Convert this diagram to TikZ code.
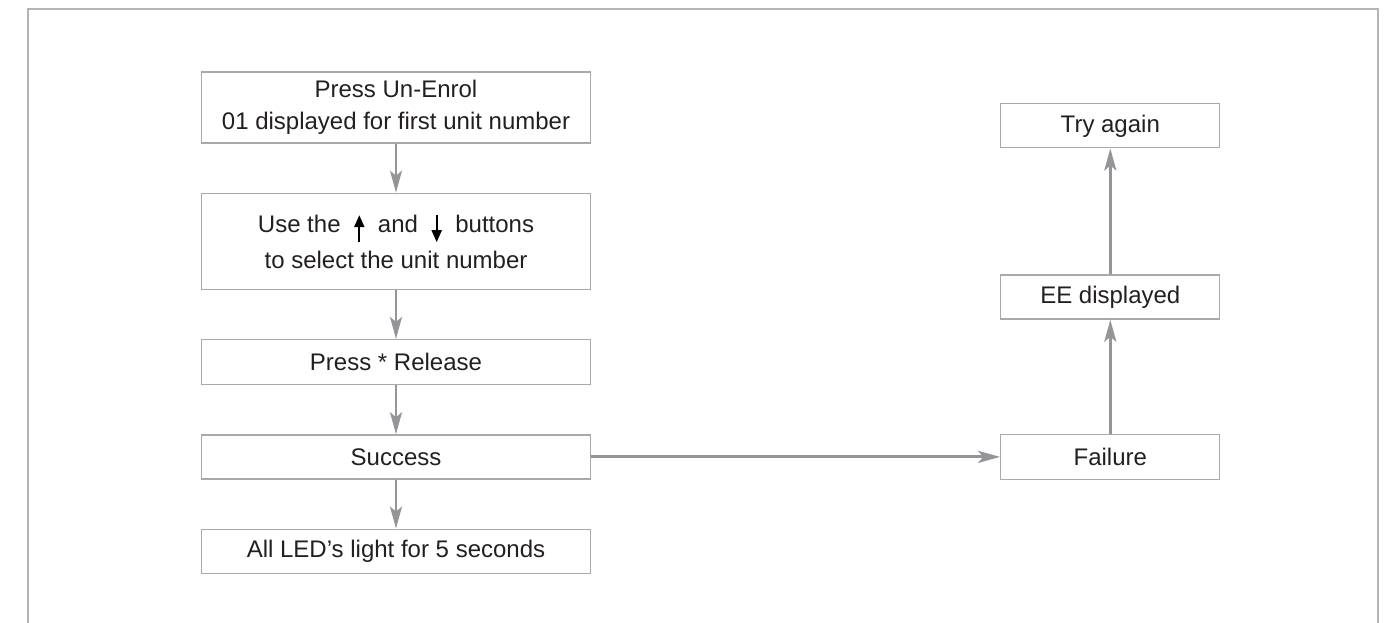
\documentclass[tikz,border=0pt]{standalone}
\usepackage{fontspec}
\setmainfont{Liberation Sans}
\usetikzlibrary{positioning,arrows.meta}

\definecolor{framegray}{HTML}{B4B4B4}
\definecolor{boxgray}{HTML}{A9A9A9}
\definecolor{arrowgray}{HTML}{939598}
\definecolor{textdark}{HTML}{231F20}

% little black key arrows used inside the text
\newcommand{\keyup}{\hspace{7pt}\tikz[baseline=0pt]\draw[black,line width=2pt,-{Triangle[length=12pt,width=10pt]}] (0,-10pt) -- (0,17pt);\hspace{7pt}}
\newcommand{\keydown}{\hspace{7pt}\tikz[baseline=0pt]\draw[black,line width=2pt,-{Triangle[length=12pt,width=10pt]}] (0,17pt) -- (0,-10pt);\hspace{7pt}}

\tikzset{
  stepbox/.style={draw=boxgray,line width=1.3pt,text=textdark,align=center,
                  minimum width=389pt,minimum height=44pt,inner sep=0pt,
                  font=\fontsize{24}{32}\selectfont},
  smallbox/.style={stepbox,minimum width=219pt},
  flow/.style={draw=arrowgray,line width=2pt,-{Stealth[length=22pt,width=12pt,inset=5pt]}}
}

\begin{document}
\begin{tikzpicture}[node distance=49pt]
  \useasboundingbox (0,0) rectangle (1389pt,-623pt);
  % open frame
  \draw[framegray,line width=1.5pt] (28pt,-623pt) -- (28pt,-9pt) -- (1378pt,-9pt) -- (1378pt,-623pt);

  \node[stepbox,minimum height=71pt] (unenrol) at (396pt,-107.5pt) {Press Un-Enrol\\01 displayed for first unit number};
  \node[stepbox,minimum height=96pt] (select)  [below=of unenrol]  {Use the \keyup{} and \keydown{} buttons\\[4pt]to select the unit number};
  \node[stepbox,minimum height=45pt] (release) [below=of select]   {Press * Release};
  \node[stepbox]                     (success) [below=of release]  {Success};
  \node[stepbox]                     (leds)    [below=of success]  {All LED’s light for 5 seconds};

  \node[smallbox,minimum height=45pt] (failure) [right=409pt of success] {Failure};
  \node[smallbox]                     (eedisp)  [above=114pt of failure] {EE displayed};
  \node[smallbox]                     (retry)   [above=126pt of eedisp]  {Try again};

  \draw[flow] (unenrol) -- (select);
  \draw[flow] (select)  -- (release);
  \draw[flow] (release) -- (success);
  \draw[flow] (success) -- (leds);
  \draw[flow,line width=3pt] (success) -- (failure);
  \draw[flow,line width=3pt] (failure) -- (eedisp);
  \draw[flow,line width=3pt] (eedisp)  -- (retry);
\end{tikzpicture}
\end{document}
